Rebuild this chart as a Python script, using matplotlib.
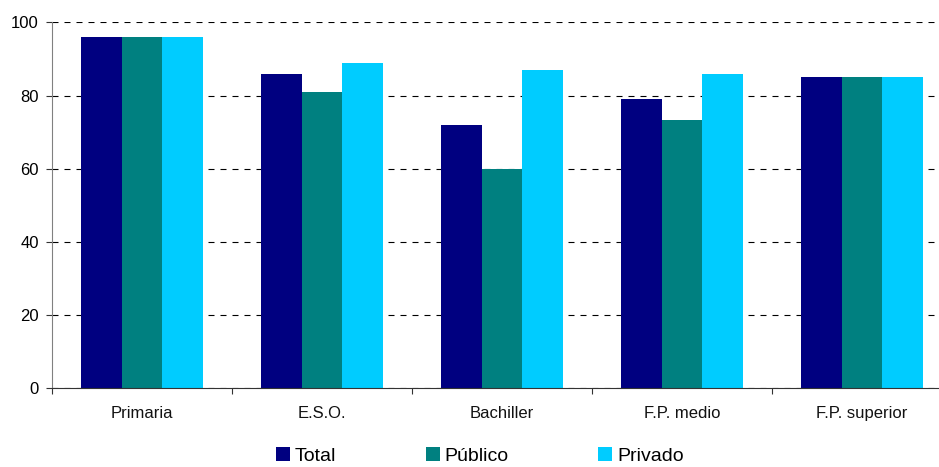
import numpy as np
import matplotlib.pyplot as plt
from matplotlib.patches import Patch

categories = ['Primaria', 'E.S.O.', 'Bachiller', 'F.P. medio', 'F.P. superior']
total = [96, 86, 72, 79, 85]
publico = [96, 81, 60, 73.3, 85]
privado = [96, 89, 87, 86, 85]

series = ['Total', 'Público', 'Privado']
colors = ['#000080', '#008080', '#00CCFF']

plt.rcParams['font.family'] = ['Liberation Sans', 'DejaVu Sans']

fig = plt.figure(figsize=(9.39, 4.67), dpi=100)
ax = fig.add_axes([52 / 939, 0.1685, 900 / 939, 0.9522 - 0.1685])

x = np.arange(len(categories))
w = 0.2244
for i, (vals, c) in enumerate(zip([total, publico, privado], colors)):
    ax.bar(x + (i - 1) * w, vals, width=w, color=c, zorder=2)

ax.set_xlim(-0.5, len(categories) - 0.5)
ax.set_ylim(0, 100)
ax.set_yticks(range(0, 101, 20))
ax.tick_params(axis='y', labelsize=12, length=4.5, width=0.8, pad=5, colors='#333333', labelcolor='black')

# boundaries get tick marks, category names sit in between
ax.set_xticks(np.arange(-0.5, len(categories), 1))
ax.set_xticklabels([])
ax.set_xticks(x, minor=True)
ax.set_xticklabels(categories, minor=True)
ax.tick_params(axis='x', which='major', length=4, width=0.8, colors='#333333')
ax.tick_params(axis='x', which='minor', length=0, labelsize=12, pad=13, labelcolor='#111111')

ax.yaxis.grid(True, color='black', linewidth=0.8, linestyle=(0, (5.4, 5.4)), zorder=0)
ax.set_axisbelow(True)

for s in ['top', 'right']:
    ax.spines[s].set_visible(False)
ax.spines['left'].set_color('#808080')
ax.spines['bottom'].set_color('#333333')

handles = [Patch(facecolor=c, edgecolor='none') for c in colors]
fig.legend(handles, series, loc='center', bbox_to_anchor=(0.511, 0.024), ncol=3,
           frameon=False, fontsize=14, handlelength=0.72, handleheight=0.72,
           handletextpad=0.26, columnspacing=4.6, borderpad=0)

fig.savefig('out.png', dpi=100)
